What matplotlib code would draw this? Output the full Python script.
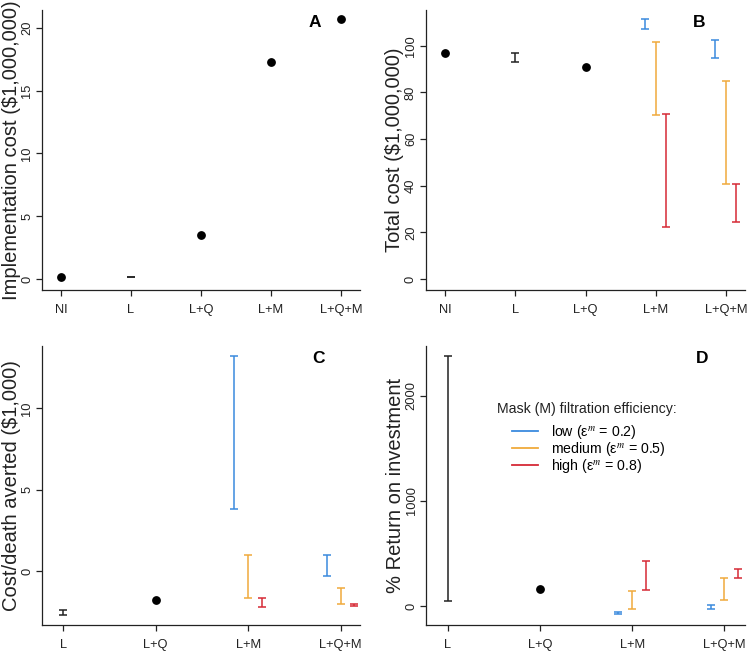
import numpy as np
import matplotlib
matplotlib.use("Agg")
import matplotlib.pyplot as plt
from matplotlib.lines import Line2D

plt.rcParams["font.family"] = ["Liberation Sans", "DejaVu Sans"]
plt.rcParams["mathtext.fontset"] = "stix"

# ---- data ----
cats_ab = ["NI", "L", "L+Q", "L+M", "L+Q+M"]
cats_cd = ["L", "L+Q", "L+M", "L+Q+M"]
levels = ["low", "medium", "high"]
eff = [0.2, 0.5, 0.8]
colors = ["#3a8ade", "#f0aa3c", "#d62a36"]

# A: implementation cost ($1,000,000)
impl_pts_cat = ["NI", "L+Q", "L+M", "L+Q+M"]
impl_pts = [0.14, 3.48, 17.3, 20.7]
impl_L = [0.17, 0.17]

# B: total cost ($1,000,000)
total_pts_cat = ["NI", "L+Q"]
total_pts = [97.0, 91.0]
total_L = [92.9, 96.7]
total_lm_lo = [107.2, 70.3, 22.2]
total_lm_hi = [111.3, 101.4, 70.6]
total_lqm_lo = [94.6, 40.9, 24.6]
total_lqm_hi = [102.4, 84.9, 40.9]

# C: cost / death averted ($1,000)
cpd_L = [-2.72, -2.40]
cpd_LQ = -1.78
cpd_lm_lo = [3.83, -1.64, -2.23]
cpd_lm_hi = [13.2, 0.98, -1.64]
cpd_lqm_lo = [-0.31, -2.03, -2.15]
cpd_lqm_hi = [0.96, -1.03, -2.01]

# D: % return on investment
roi_L = [48, 2381]
roi_LQ = 162
roi_lm_lo = [-79, -31, 150]
roi_lm_hi = [-54, 146, 429]
roi_lqm_lo = [-31, 54, 267]
roi_lqm_hi = [10, 270, 350]

offsets = [-0.15, 0.0, 0.15]


def bar(ax, x, lo, hi, color="#222222"):
    mid = (lo + hi) / 2
    ax.errorbar([x], [mid], yerr=[[mid - lo], [hi - mid]], fmt="none",
                ecolor=color, elinewidth=1.1, capsize=2.6, capthick=1.1)


def style(ax, cats, yticks, ylabel, letter, letter_x):
    ax.set_xticks(np.arange(1, len(cats) + 1))
    ax.set_xticklabels(cats)
    ax.set_yticks(yticks)
    ax.set_yticklabels([str(t) for t in yticks], rotation=90, va="center")
    for s in ["top", "right"]:
        ax.spines[s].set_visible(False)
    for s in ["left", "bottom"]:
        ax.spines[s].set_linewidth(0.9)
        ax.spines[s].set_color("#222222")
    ax.tick_params(direction="out", length=4.3, width=0.9, color="#222222",
                   labelsize=9.3, labelcolor="#222222")
    ax.tick_params(axis="x", pad=5.5)
    ax.tick_params(axis="y", pad=2)
    ax.set_ylabel(ylabel, fontsize=14.5, color="#222222")
    ax.yaxis.set_label_coords(-0.067, 0.5)
    ax.text(letter_x, 0.955, letter, transform=ax.transAxes, fontsize=12.5,
            fontweight="bold", ha="center", va="center")


fig = plt.figure(figsize=(7.48, 6.52), dpi=100)
axA = fig.add_axes([0.0561, 0.5552, 0.4252, 0.4295])
axB = fig.add_axes([0.5691, 0.5552, 0.4265, 0.4295])
axC = fig.add_axes([0.0561, 0.0414, 0.4252, 0.4279])
axD = fig.add_axes([0.5699, 0.0414, 0.4257, 0.4279])

pos_ab = {c: i + 1 for i, c in enumerate(cats_ab)}
pos_cd = {c: i + 1 for i, c in enumerate(cats_cd)}

# A
axA.plot([pos_ab[c] for c in impl_pts_cat], impl_pts, "o", color="black", ms=5.3)
bar(axA, pos_ab["L"], impl_L[0], impl_L[1])
axA.set_xlim(0.73, 5.27)
axA.set_ylim(-0.88, 21.43)
style(axA, cats_ab, [0, 5, 10, 15, 20], "Implementation cost ($1,000,000)", "A", 0.858)

# B
axB.plot([pos_ab[c] for c in total_pts_cat], total_pts, "o", color="black", ms=5.3)
bar(axB, pos_ab["L"], total_L[0], total_L[1])
for i in range(3):
    bar(axB, pos_ab["L+M"] + offsets[i], total_lm_lo[i], total_lm_hi[i], colors[i])
    bar(axB, pos_ab["L+Q+M"] + offsets[i], total_lqm_lo[i], total_lqm_hi[i], colors[i])
axB.set_xlim(0.72, 5.27)
axB.set_ylim(-4.7, 115.3)
style(axB, cats_ab, [0, 20, 40, 60, 80, 100], "Total cost ($1,000,000)", "B", 0.857)

# C
bar(axC, pos_cd["L"], cpd_L[0], cpd_L[1])
axC.plot([pos_cd["L+Q"]], [cpd_LQ], "o", color="black", ms=5.3)
for i in range(3):
    bar(axC, pos_cd["L+M"] + offsets[i], cpd_lm_lo[i], cpd_lm_hi[i], colors[i])
    bar(axC, pos_cd["L+Q+M"] + offsets[i], cpd_lqm_lo[i], cpd_lqm_hi[i], colors[i])
axC.set_xlim(0.77, 4.21)
axC.set_ylim(-3.32, 13.83)
style(axC, cats_cd, [0, 5, 10], "Cost/death averted ($1,000)", "C", 0.871)

# D
bar(axD, pos_cd["L"], roi_L[0], roi_L[1])
axD.plot([pos_cd["L+Q"]], [roi_LQ], "o", color="black", ms=5.3)
for i in range(3):
    bar(axD, pos_cd["L+M"] + offsets[i], roi_lm_lo[i], roi_lm_hi[i], colors[i])
    bar(axD, pos_cd["L+Q+M"] + offsets[i], roi_lqm_lo[i], roi_lqm_hi[i], colors[i])
axD.set_xlim(0.77, 4.22)
axD.set_ylim(-181, 2476)
style(axD, cats_cd, [0, 1000, 2000], "% Return on investment", "D", 0.866)

# legend: title as separate text so the row spacing can be tight
axD.text(0.504, 0.774, "Mask (M) filtration efficiency:", transform=axD.transAxes,
         fontsize=10.2, ha="center", va="center", color="#222222")
handles = [Line2D([], [], color=c, lw=1.3) for c in colors]
labels = [f"{lv} (ε$^{{m}}$ = {e})" for lv, e in zip(levels, eff)]
axD.legend(handles, labels, loc="upper left", bbox_to_anchor=(0.268, 0.724),
           frameon=False, fontsize=10.2, handlelength=1.85, handletextpad=0.9,
           labelspacing=-0.08, borderpad=0, borderaxespad=0)

fig.savefig("out.png", dpi=100)
